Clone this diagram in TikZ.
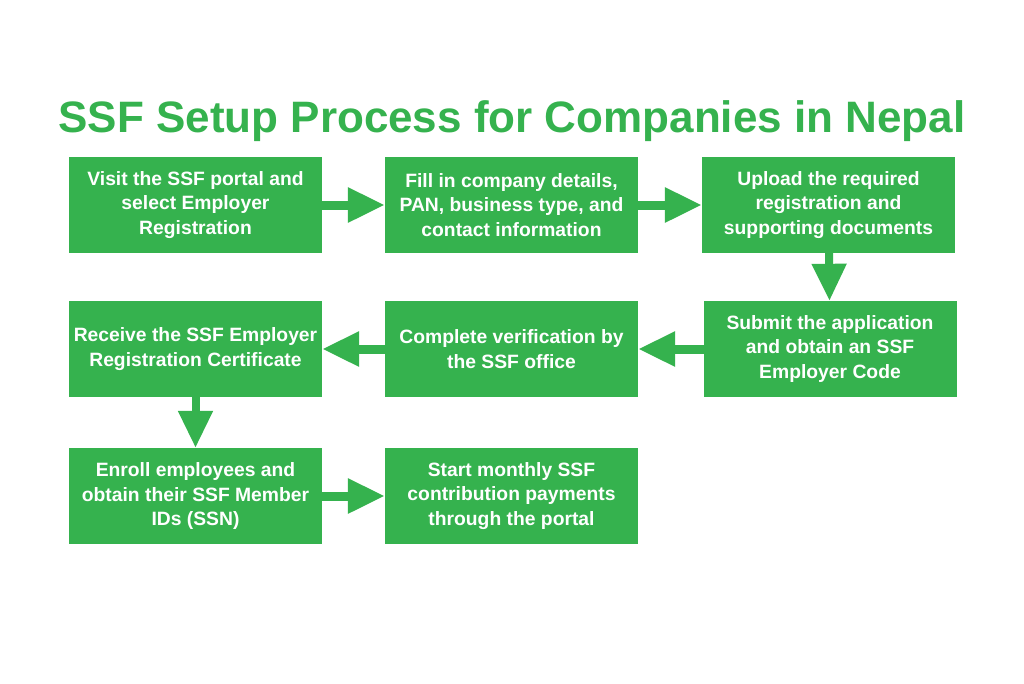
\documentclass[tikz,border=0pt]{standalone}
\usepackage{fontspec}
\setmainfont{Liberation Sans}
\usetikzlibrary{arrows.meta}
\definecolor{ssfgreen}{HTML}{35B24E}
\begin{document}
\begin{tikzpicture}[x=1pt,y=-1pt,
  stepbox/.style={fill=ssfgreen, draw=none, minimum width=253pt, minimum height=96pt,
    inner sep=0pt, align=center, text=white,
    font=\bfseries\fontsize{19.3}{24.5}\selectfont},
  harrow/.style={draw=ssfgreen, line width=9pt, -{Triangle[length=37pt,width=33pt]}, shorten <=-1pt},
  varrow/.style={draw=ssfgreen, line width=8pt, -{Triangle[length=37pt,width=33pt]}, shorten <=-1pt}
]
\useasboundingbox (0,0) rectangle (1024,683);
\fill[white] (0,0) rectangle (1024,683);
\node[anchor=base, text=ssfgreen, font=\bfseries\fontsize{44}{50}\selectfont] (title) at (512,132) {SSF Setup Process for Companies in Nepal};
\node[stepbox] (b1) at (195.5,205) {Visit the SSF portal and\\select Employer\\Registration};
\node[stepbox] (b2) at (511.5,205) {Fill in company details,\\PAN, business type, and\\contact information};
\node[stepbox] (b3) at (828.5,205) {Upload the required\\registration and\\supporting documents};
\node[stepbox] (b4) at (830,349) {Submit the application\\and obtain an SSF\\Employer Code};
\node[stepbox] (b5) at (511.5,349) {Complete verification by\\the SSF office};
\node[stepbox] (b6) at (195.5,349) {Receive the SSF Employer\\Registration Certificate};
\node[stepbox] (b7) at (195.5,496) {Enroll employees and\\obtain their SSF Member\\IDs (SSN)};
\node[stepbox] (b8) at (511.5,496) {Start monthly SSF\\contribution payments\\through the portal};
\draw[harrow] (b1) -- (b2);
\draw[harrow] (b2) -- (b3);
\draw[varrow] (b3) -- (b4);
\draw[harrow] (b4) -- (b5);
\draw[harrow] (b5) -- (b6);
\draw[varrow] (b6) -- (b7);
\draw[harrow] (b7) -- (b8);
\end{tikzpicture}
\end{document}
